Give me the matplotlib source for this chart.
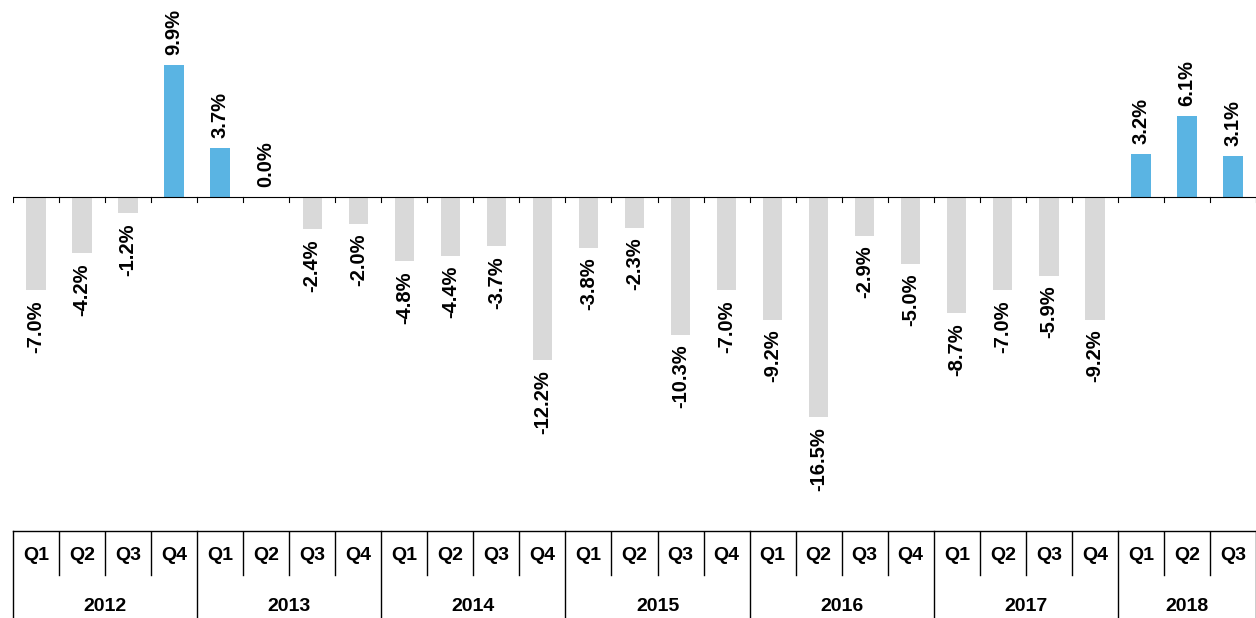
import numpy as np
import matplotlib.pyplot as plt

# quarterly change, 2012 Q1 .. 2018 Q3
years = ['2012', '2013', '2014', '2015', '2016', '2017', '2018']
quarters = ['Q1', 'Q2', 'Q3', 'Q4']
values = [-7.0, -4.2, -1.2, 9.9,
          3.7, 0.0, -2.4, -2.0,
          -4.8, -4.4, -3.7, -12.2,
          -3.8, -2.3, -10.3, -7.0,
          -9.2, -16.5, -2.9, -5.0,
          -8.7, -7.0, -5.9, -9.2,
          3.2, 6.1, 3.1]

plt.rcParams['font.family'] = ['Liberation Sans', 'DejaVu Sans']
W, H = 1256, 618
fig = plt.figure(figsize=(W / 100, H / 100), dpi=100)

n = len(values)
x = np.arange(n)
left, right = 13, 1256

# bars area (pixel layout -> figure fraction)
top_px, bot_px = 0, 520
ax = fig.add_axes([left / W, 1 - bot_px / H, (right - left) / W, (bot_px - top_px) / H])
zero_px = 197
scale = 13.35
ax.set_ylim(-(bot_px - zero_px) / scale, zero_px / scale)
ax.set_xlim(-0.5, n - 0.5)

colors = ['#5ab4e3' if v > 0 else '#d9d9d9' for v in values]
ax.bar(x, values, width=0.42, color=colors)

for xi, v in zip(x, values):
    if v >= 0:
        ax.text(xi, v + 0.75, f'{v:.1f}%', rotation=90, ha='center', va='bottom',
                fontsize=14.5, fontweight='bold')
    else:
        ax.text(xi, v - 0.75, f'{v:.1f}%', rotation=90, ha='center', va='top',
                fontsize=14.5, fontweight='bold')

ax.axhline(0, color='black', lw=0.8)
for b in np.arange(-0.5, n, 1.0):
    ax.plot([b, b], [0, -0.4], color='black', lw=0.8)
ax.set_axis_off()

# category table underneath
t_top, t_bot = 531, 618
tab = fig.add_axes([left / W, 0, (right - left) / W, (H - t_top) / H])
tab.set_xlim(-0.5, n - 0.5)
tab.set_ylim(0, 1)
tab.set_axis_off()
mid = (618 - 575) / (t_bot - t_top)
tab.plot([-0.5, n - 0.5], [1, 1], color='black', lw=1, clip_on=False)
for i in range(n):
    q = quarters[i % 4]
    tab.text(i, 0.72, q, ha='center', va='center', fontsize=14, fontweight='bold')
    if i % 4 != 0:
        tab.plot([i - 0.5, i - 0.5], [mid, 1], color='black', lw=1)
for k, yr in enumerate(years):
    start = k * 4 - 0.5
    end = min(start + 4, n - 0.5)
    tab.text((start + end) / 2, 0.13, yr, ha='center', va='center',
             fontsize=14, fontweight='bold')
    tab.plot([start, start], [0, 1], color='black', lw=1, clip_on=False)
tab.plot([n - 0.5, n - 0.5], [0, 1], color='black', lw=1, clip_on=False)

fig.savefig('out.png', dpi=100)
